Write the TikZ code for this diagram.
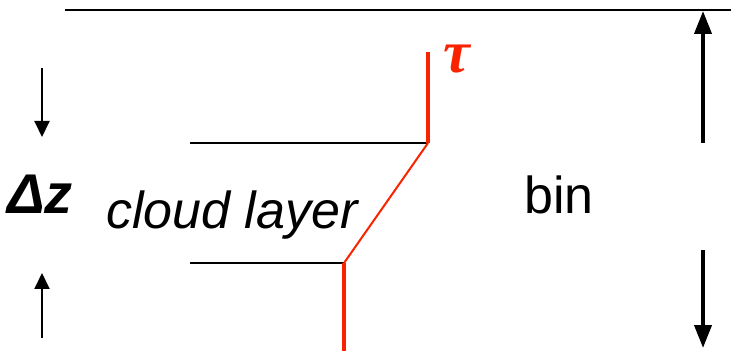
\documentclass[tikz,border=0pt]{standalone}
\usepackage{fontspec}
\setsansfont{Liberation Sans}
\newfontfamily\taufont{Liberation Serif}
\usetikzlibrary{arrows.meta}
\definecolor{taured}{RGB}{250,35,0}

\begin{document}
\begin{tikzpicture}[x=0.5pt,y=-0.5pt,
    lbl/.style={font=\sffamily\fontsize{26}{30}\selectfont,inner sep=0pt,anchor=base},
    smallarrow/.style={line width=1pt,-{Triangle[length=8pt,width=7.5pt]}},
    bigarrow/.style={line width=2pt,-{Triangle[length=11.5pt,width=8.5pt]}}]
    \useasboundingbox (0,0) rectangle (731,351);
    % bin top and layer bounds
    \coordinate (binL) at (65,10);
    \coordinate (binR) at (731,10);
    \coordinate (upL) at (190,143);
    \coordinate (upR) at (428,143);
    \coordinate (loL) at (190,263);
    \coordinate (loR) at (344,263);
    \draw[line width=1pt] (binL) -- (binR);
    \draw[line width=1pt] (upL) -- (upR);
    \draw[line width=1pt] (loL) -- (loR);
    % tau profile
    \coordinate (tauTop) at (428,52);
    \coordinate (tauBot) at (344,351);
    \draw[taured,line width=2pt] (tauTop) -- (upR);
    \draw[taured,line width=1pt] (upR) -- (loR);
    \draw[taured,line width=2pt] (loR) -- (tauBot);
    \node[lbl,text=taured,font=\taufont\bfseries\itshape\fontsize{30}{34}\selectfont] (tau) at (457,73) {τ};
    % labels
    \node[lbl,font=\sffamily\bfseries\itshape\fontsize{28}{32}\selectfont] (dz) at (40,214) {Δz};
    \node[lbl,font=\sffamily\itshape\fontsize{26}{30}\selectfont] (cloud) at (232,229) {cloud layer};
    \node[lbl] (bin) at (559,214) {bin};
    % Delta z arrows
    \coordinate (dzA) at (42,68);
    \coordinate (dzB) at (42,137);
    \coordinate (dzC) at (42,338);
    \coordinate (dzD) at (42,273);
    \draw[smallarrow] (dzA) -- (dzB);
    \draw[smallarrow] (dzC) -- (dzD);
    % bin arrows
    \coordinate (binA) at (703,143);
    \coordinate (binB) at (703,11);
    \coordinate (binC) at (703,250);
    \coordinate (binD) at (703,348);
    \draw[bigarrow] (binA) -- (binB);
    \draw[bigarrow] (binC) -- (binD);
\end{tikzpicture}
\end{document}
